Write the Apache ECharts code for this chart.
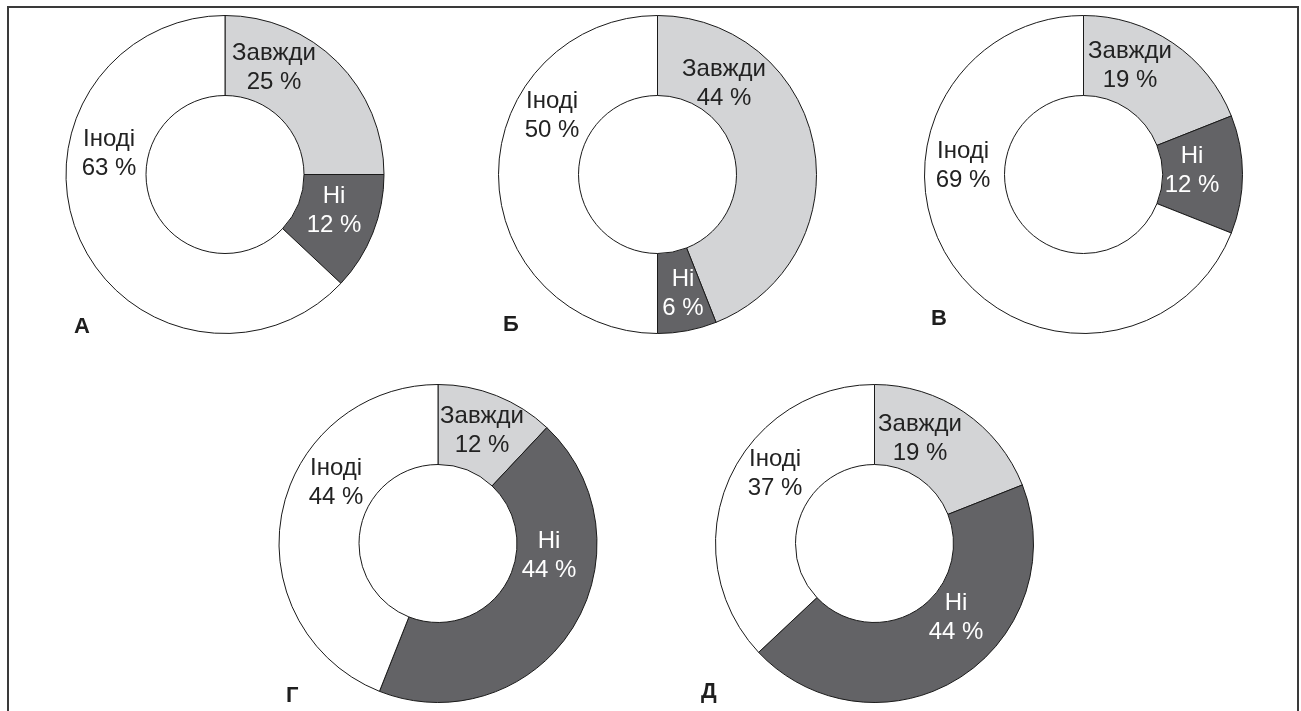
<!DOCTYPE html>
<html>
<head>
<meta charset="utf-8">
<title>Завжди / Ні / Іноді</title>
<script src="https://cdn.jsdelivr.net/npm/echarts@6/dist/echarts.min.js"></script>
<style>
  html, body { margin: 0; padding: 0; background: #ffffff; }
  #chart { width: 1301px; height: 711px; }
</style>
</head>
<body>
<div id="chart"></div>
<script>
// Panel letters and answer categories
const panels = ['А', 'Б', 'В', 'Г', 'Д'];
const categories = ['Завжди', 'Ні', 'Іноді'];

// Share of answers per panel, in percent
const always = [25, 44, 19, 12, 19];
const no = [12, 6, 12, 44, 44];
const sometimes = [63, 50, 69, 44, 37];

// Layout: donut centres (px), panel letter anchors (left, middle) and label offsets from centre
const centres = [[225, 174.5], [657.5, 174.5], [1083.5, 174.5], [438, 543.5], [874.5, 543.5]];
const letterPos = [[74, 326.5], [503, 325], [931, 318.5], [286, 695.5], [701, 691.5]];
const labelOffsets = [
  [[49, -107], [109, 36], [-116, -21]],
  [[66.5, -91], [25.5, 119.5], [-105.5, -59]],
  [[46.5, -109], [108.5, -4], [-120.5, -9]],
  [[44, -113], [111, 12], [-102, -61]],
  [[45.5, -105], [81.5, 74], [-99.5, -70]]
];

const sliceColors = ['#d3d4d6', '#636366', '#ffffff'];
const labelColors = ['#222222', '#ffffff', '#222222'];
const FONT = '"Liberation Sans", Arial, Helvetica, sans-serif';

const chart = echarts.init(document.getElementById('chart'), null, { renderer: 'canvas' });

const series = panels.map(function (p, i) {
  const values = [always[i], no[i], sometimes[i]];
  const c = centres[i];
  return {
    type: 'pie',
    name: p,
    center: c,
    radius: [79, 159],
    startAngle: 90,
    clockwise: true,
    avoidLabelOverlap: false,
    silent: true,
    emphasis: { disabled: true },
    itemStyle: { borderColor: '#1a1a1a', borderWidth: 1 },
    label: {
      show: true,
      position: 'inside',
      formatter: '{b}\n{c} %',
      fontFamily: FONT,
      fontSize: 24,
      lineHeight: 29,
      align: 'center'
    },
    labelLine: { show: false },
    labelLayout: function (params) {
      const off = labelOffsets[i][params.dataIndex];
      return { x: c[0] + off[0], y: c[1] + off[1] };
    },
    data: categories.map(function (name, k) {
      return {
        name: name,
        value: values[k],
        itemStyle: { color: sliceColors[k] },
        label: { color: labelColors[k] }
      };
    })
  };
});

// Outer frame plus the bold panel letters
const graphics = [{
  type: 'rect',
  silent: true,
  shape: { x: 8, y: 7, width: 1290, height: 730 },
  style: { fill: 'none', stroke: '#3a3a3a', lineWidth: 2 },
  z: 0
}].concat(panels.map(function (p, i) {
  return {
    type: 'text',
    silent: true,
    x: letterPos[i][0],
    y: letterPos[i][1],
    z: 10,
    style: {
      text: p,
      font: 'bold 22px "Liberation Sans", Arial, Helvetica, sans-serif',
      fill: '#1e1e1e',
      align: 'left',
      verticalAlign: 'middle'
    }
  };
}));

chart.setOption({
  animation: false,
  backgroundColor: '#ffffff',
  graphic: graphics,
  series: series
});
</script>
</body>
</html>
